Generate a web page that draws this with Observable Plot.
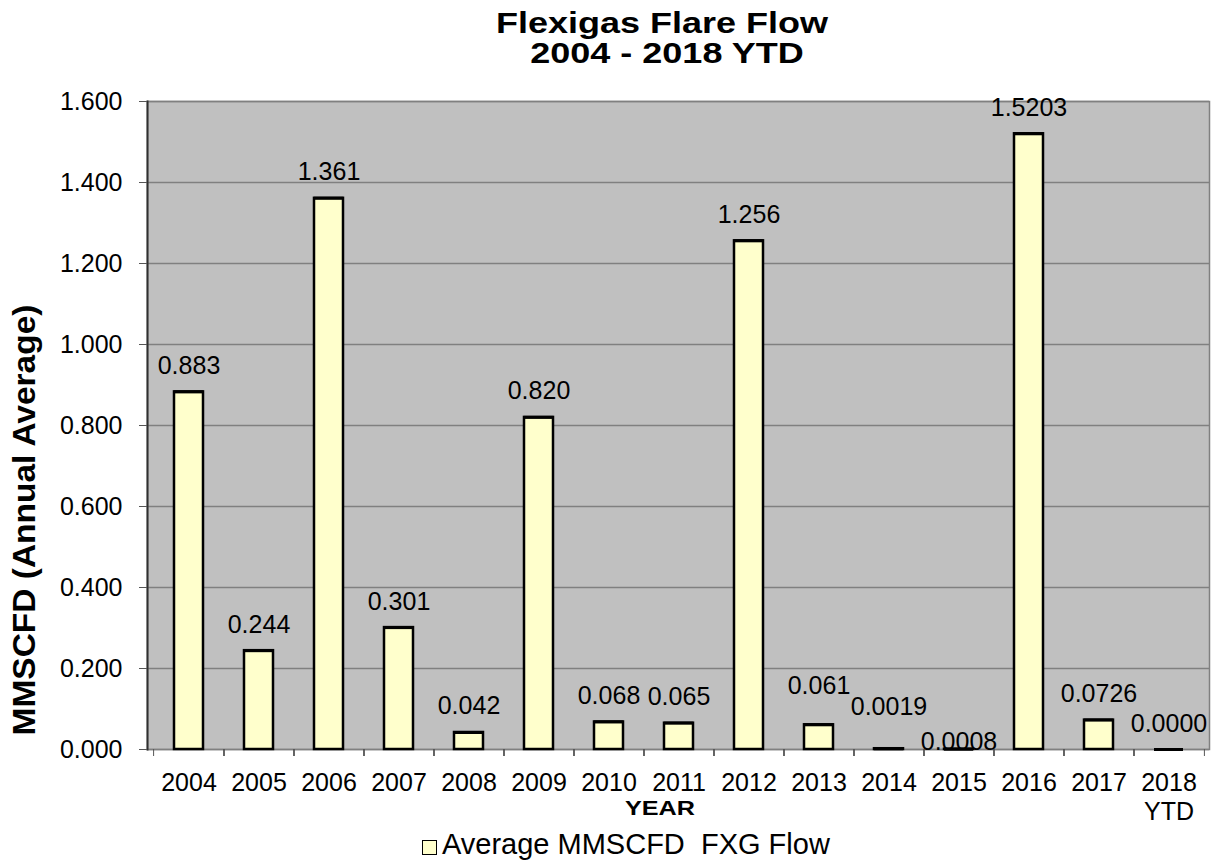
<!DOCTYPE html>
<html>
<head>
<meta charset="utf-8">
<script src="https://cdn.jsdelivr.net/npm/d3@7"></script>
<script src="https://cdn.jsdelivr.net/npm/@observablehq/plot@0.6"></script>
<style>
  html, body { margin: 0; padding: 0; background: #fff; }
  body { font-family: "Liberation Sans", Arial, sans-serif; color: #000; }
  #wrap { position: relative; width: 1220px; height: 867px; overflow: hidden; background: #fff; }
  #title { position: absolute; left: 57px; top: 8px; width: 1220px; text-align: center; white-space: pre;
           font-weight: bold; font-size: 30px; line-height: 30px; transform: scaleX(1.2); transform-origin: 610px 0; }
  #chart { position: absolute; left: 0; top: 90px; }
  #ytitle { position: absolute; left: 24px; top: 520px; white-space: nowrap; font-weight: bold;
            font-size: 31px; line-height: 31px; transform: translate(-50%, -50%) rotate(-90deg) scaleX(1.08); }
  #xtitle { position: absolute; left: 660px; top: 807px; white-space: nowrap; font-weight: bold;
            font-size: 21px; line-height: 21px; transform: translate(-50%, -50%) scaleX(1.2); }
  #legsq { position: absolute; left: 422px; top: 840px; width: 15px; height: 15px; box-sizing: border-box;
           border: 1.5px solid #000; background: #FFFFCC; }
  #legtx { position: absolute; left: 442px; top: 830px; white-space: pre; font-size: 29px; line-height: 29px; }
</style>
</head>
<body>
<div id="wrap">
  <div id="title">Flexigas Flare Flow 
2004 - 2018 YTD</div>
  <div id="chart"></div>
  <div id="ytitle">MMSCFD (Annual Average)</div>
  <div id="xtitle">YEAR</div>
  <div id="legsq"></div>
  <div id="legtx">Average MMSCFD  FXG Flow</div>
</div>
<script>
// ---- data ----
const years = ["2004","2005","2006","2007","2008","2009","2010","2011","2012","2013","2014","2015","2016","2017","2018"];
const values = [0.883, 0.244, 1.361, 0.301, 0.042, 0.820, 0.068, 0.065, 1.256, 0.061, 0.0019, 0.0008, 1.5203, 0.0726, 0.0000];
const valueLabels = ["0.883","0.244","1.361","0.301","0.042","0.820","0.068","0.065","1.256","0.061","0.0019","0.0008","1.5203","0.0726","0.0000"];
const xTickLabels = ["2004","2005","2006","2007","2008","2009","2010","2011","2012","2013","2014","2015","2016","2017","2018\nYTD"];
const yTicks = [0, 0.2, 0.4, 0.6, 0.8, 1.0, 1.2, 1.4, 1.6];

// ---- styling (label placement tweaks, not data) ----
const baseDy = -26;
const labelShift = {"2013": -13, "2014": -16, "2015": 19};

const rows = years.map((y, i) => ({year: y, value: values[i], label: valueLabels[i]}));

const labelGroups = d3.group(rows, d => labelShift[d.year] || 0);
const labelMarks = Array.from(labelGroups, ([shift, rs]) =>
  Plot.text(rs, {x: "year", y: "value", text: "label", dy: baseDy + shift, fontSize: 25, fill: "#000"})
);

const BAND_HALF = 1062 / 15 / 2;

const chart = Plot.plot({
  width: 1220,
  height: 740,
  marginTop: 11,
  marginBottom: 81,
  marginLeft: 147,
  marginRight: 11,
  style: {fontFamily: "'Liberation Sans', Arial, sans-serif", background: "transparent", color: "#000", overflow: "visible"},
  x: {domain: years, paddingInner: 0.59, paddingOuter: 0.295, label: null},
  y: {domain: [0, 1.6], label: null},
  marks: [
    Plot.frame({fill: "#C0C0C0", stroke: null}),
    Plot.gridY(yTicks, {stroke: "#808080", strokeOpacity: 1, strokeWidth: 1.5}),
    Plot.frame({stroke: "#808080", strokeWidth: 1.5}),
    Plot.frame({anchor: "left", stroke: "#303030", strokeWidth: 2}),
    Plot.axisY(yTicks, {tickSize: 8, tickPadding: 17, tickFormat: d3.format(".3f"), fontSize: 25, stroke: "#555", label: null}),
    Plot.axisX({tickSize: 7, tickFormat: () => "", dx: -BAND_HALF, stroke: "#555", label: null}),
    Plot.axisX({tickSize: 7, tickFormat: () => "", dx: BAND_HALF, stroke: "#555", label: null}),
    Plot.axisX({tickSize: 0, tickPadding: 21, fontSize: 25, lineHeight: 1.16,
                tickFormat: d => xTickLabels[years.indexOf(d)], label: null}),
    Plot.barY(rows, {x: "year", y: "value", fill: "#FFFFCC", stroke: "#000", strokeWidth: 2.5}),
    Plot.tickY(rows, {x: "year", y: "value", stroke: "#000", strokeWidth: 3}),
    ...labelMarks
  ]
});
document.getElementById("chart").appendChild(chart);
</script>
</body>
</html>
